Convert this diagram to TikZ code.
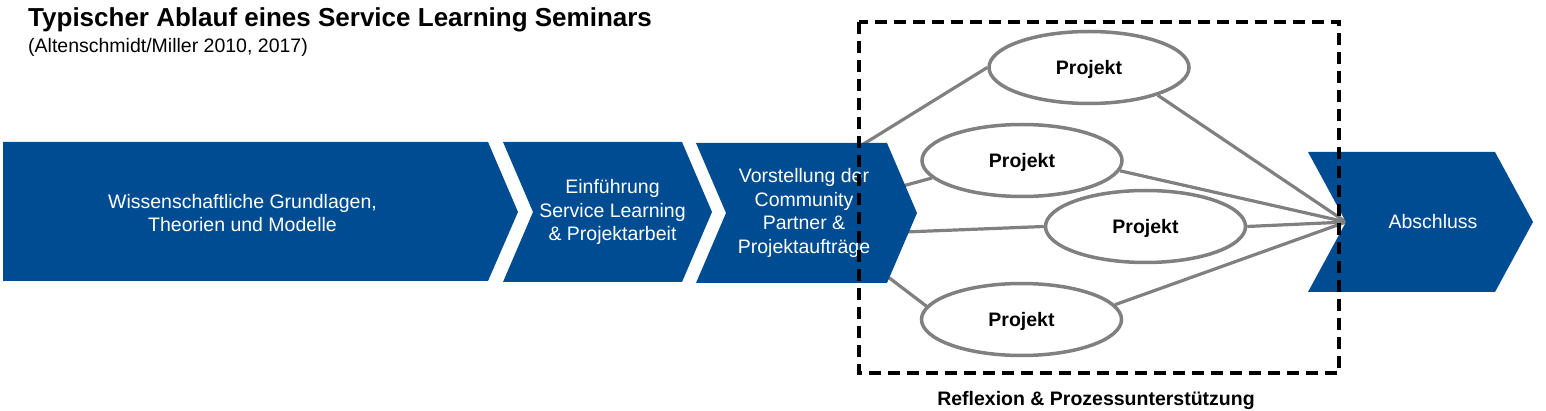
\documentclass[tikz,border=0pt]{standalone}
\usepackage{fontspec}
\setmainfont{Liberation Sans}
\usepackage{tikz}
\usetikzlibrary{backgrounds,shapes}

\definecolor{udeblau}{RGB}{0,76,147}
\definecolor{grau}{RGB}{128,128,128}

\begin{document}
\begin{tikzpicture}[x=1pt, y=-1pt, inner sep=0pt]
    \tikzstyle{txt}=[text=white, align=center, font=\fontsize{19.5}{23.5}\selectfont]
    \tikzstyle{proj}=[ellipse, draw=grau, line width=3.5pt, fill=white,
      minimum width=200pt, minimum height=72pt, text depth=0pt,
      font=\fontsize{19.5}{23.5}\selectfont\bfseries]
    \tikzstyle{chev}=[fill=udeblau]
    \tikzstyle{lnk}=[draw=grau, line width=3.2pt]
    \tikzstyle{rahmen}=[draw=black, line width=4pt, dash pattern=on 12pt off 7pt]

    \useasboundingbox (0,0) rectangle (1546,411);

    \node[anchor=base west, font=\fontsize{26}{30}\selectfont\bfseries] (titel)
      at (28,27) {Typischer Ablauf eines Service Learning Seminars};
    \node[anchor=base west, font=\fontsize{19.5}{23.5}\selectfont] (quelle)
      at (28,53) {(Altenschmidt/Miller 2010, 2017)};

    \node[txt] (grundl) at (242.5,213) {Wissenschaftliche Grundlagen,\\Theorien und Modelle};
    \node[txt] (einf) at (612.5,212) {Einführung\\Service Learning\\\& Projektarbeit};
    \node[txt] (vorst) at (804,213) {Vorstellung der\\Community\\Partner \&\\Projektaufträge};
    \node[txt] (absch) at (1433,222) {Abschluss};

    \node[proj] (P1) at (1089,67.5) {Projekt};
    \node[proj] (P2) at (1022,160.5) {Projekt};
    \node[proj] (P3) at (1145.5,226.5) {Projekt};
    \node[proj] (P4) at (1021.5,319.5) {Projekt};

    \coordinate (kerbe) at (1346,222);

    % die Linien und Pfeilformen...
    \begin{pgfonlayer}{background}
      \draw[lnk] ([xshift=-52pt]vorst.center) -- (P1.west);
      \draw[lnk] (vorst) -- (P2.191);
      \draw[lnk] ([yshift=-23pt]vorst.center) -- (P3.west);
      \draw[lnk] (vorst) -- (P4.172);
      \draw[lnk] (P1.338) -- (kerbe);
      \draw[lnk] (P2.354) -- (kerbe);
      \draw[lnk] (P3.east) -- (kerbe);
      \draw[lnk] (P4.9) -- (kerbe);

      \fill[chev] (3,142) -- (488,142) -- (518,212) -- (488,281) -- (3,281) -- cycle;
      \fill[chev] (503,142) -- (682,142) -- (712,212) -- (682,282) -- (503,282) -- (533,212) -- cycle;
      \fill[chev] (696,143) -- (887,143) -- (917,213) -- (887,283) -- (696,283) -- (726,213) -- cycle;
      \fill[chev] (1308,152) -- (1495,152) -- (1533,222) -- (1495,292) -- (1308,292) -- (1346,222) -- cycle;
    \end{pgfonlayer}

    \draw[rahmen] (859,22) rectangle (1339,373);
    \node[font=\fontsize{19.5}{23.5}\selectfont\bfseries] (reflex) at (1096,400)
      {Reflexion \& Prozessunterstützung};
\end{tikzpicture}
\end{document}
